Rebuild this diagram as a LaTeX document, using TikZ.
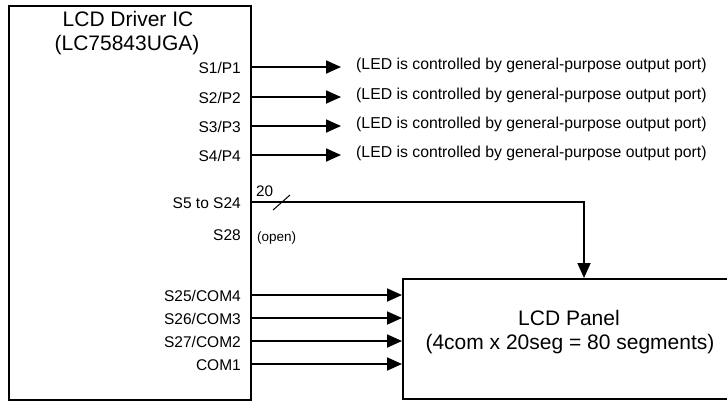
\documentclass[tikz,border=0pt]{standalone}
\usepackage{fontspec}
\setmainfont{Liberation Sans}
\usetikzlibrary{arrows.meta}
\begin{document}
\begin{tikzpicture}[x=1pt,y=-1pt,
  box/.style={draw, line width=1.8pt, inner sep=0pt, anchor=north west},
  arr/.style={line width=1.8pt, -{Triangle[length=15pt,width=13pt]}},
  title/.style={font=\fontsize{21}{24}\selectfont, inner sep=0pt},
  pin/.style={font=\fontsize{15.5}{18}\selectfont, inner sep=0pt, anchor=base east},
  note/.style={font=\fontsize{15.8}{18}\selectfont, inner sep=0pt, anchor=base west},
  small/.style={font=\fontsize{13.5}{16}\selectfont, inner sep=0pt, anchor=base west}]
\useasboundingbox (0,0) rectangle (727,400);
\fill[white] (0,0) rectangle (727,400);
% boxes
\node[box, minimum width=242pt, minimum height=394pt] (ic) at (8,5) {};
\node[box, minimum width=340pt, minimum height=120pt] (panel) at (402,278) {};
% IC title
\node[title, anchor=base] (t1) at (128,26.5) {LCD Driver IC};
\node[title, anchor=base] (t2) at (127,50.5) {(LC75843UGA)};
% panel text
\node[title, anchor=base] (pt1) at (569,325.5) {LCD Panel};
\node[title, anchor=base] (pt2) at (570,349) {(4com x 20seg = 80 segments)};
% port pins
\foreach \i/\yy in {1/67,2/97,3/126,4/155}{
  \coordinate (p\i) at (ic.east |- 0,\yy);
  \coordinate (led\i) at (341,\yy);
  \node[pin] (lp\i) at (241,\yy+6) {S\i/P\i};
  \draw[arr] (p\i) -- (led\i);
  \node[note] (ln\i) at (356,\yy+2) {(LED is controlled by general-purpose output port)};
}
% segment bus
\coordinate (seg) at (ic.east |- 0,202);
\coordinate (bend) at (584,202);
\node[pin] (lseg) at (241,208) {S5 to S24};
\draw[line width=1.8pt, -{Triangle[length=15pt,width=13pt]}] (seg) -- (bend) -- (bend |- panel.north);
\draw[line width=1pt] (273,210) -- (290,195);
\node[small, font=\fontsize{15.3}{18}\selectfont] (n20) at (256,196) {20};
\node[pin] (ls28) at (241,240.5) {S28};
\node[small] (open) at (257,241) {(open)};
% common lines
\foreach \yy/\lab [count=\k] in {295/S25\slash COM4,318/S26\slash COM3,341/S27\slash COM2,364/COM1}{
  \coordinate (c\k) at (ic.east |- 0,\yy);
  \coordinate (d\k) at (panel.west |- 0,\yy);
  \node[pin] (lc\k) at (241,\yy+6) {\lab};
  \draw[arr] (c\k) -- (d\k);
}
\end{tikzpicture}
\end{document}
